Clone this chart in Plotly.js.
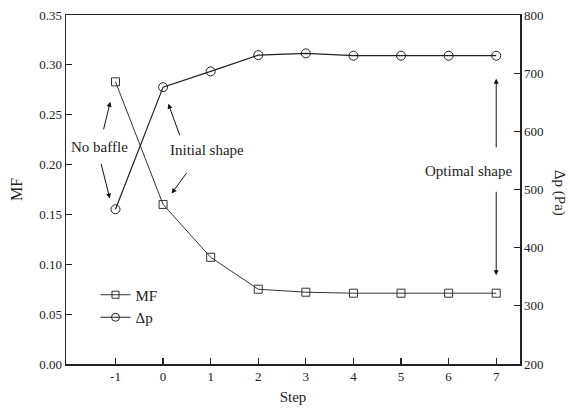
<!DOCTYPE html>
<html>
<head>
<meta charset="utf-8">
<script src="https://cdn.plot.ly/plotly-3.0.1.min.js"></script>
<style>html,body{margin:0;padding:0;background:#fff;}#chart{width:570px;height:410px;}</style>
</head>
<body>
<div id="chart"></div>
<script>
const steps = [-1, 0, 1, 2, 3, 4, 5, 6, 7];
const mfValues = [0.283, 0.160, 0.107, 0.075, 0.072, 0.071, 0.071, 0.071, 0.071];
const dpValues = [466, 676, 703, 731, 734, 730, 730, 730, 730];
const xTickVals = [-1, 0, 1, 2, 3, 4, 5, 6, 7];
const xTickText = ['-1', '0', '1', '2', '3', '4', '5', '6', '7'];

const FONT = 'Liberation Serif, Times New Roman, serif';
const INK = '#222';

const traces = [
  {
    x: steps, y: mfValues, name: 'MF', type: 'scatter', mode: 'lines+markers', showlegend: false,
    line: {color: '#333', width: 1},
    marker: {symbol: 'square-open', size: 8, color: '#333', line: {width: 1}}
  },
  {
    x: steps, y: dpValues, name: 'Δp', type: 'scatter', mode: 'lines+markers', yaxis: 'y2', showlegend: false,
    line: {color: '#222', width: 1.2},
    marker: {symbol: 'circle-open', size: 9, color: '#222', line: {width: 1}}
  },
  {
    x: [null], y: [null], name: 'MF', type: 'scatter', mode: 'lines+markers',
    line: {color: '#333', width: 1},
    marker: {symbol: 'square-open', size: 7, color: '#333', line: {width: 1}}
  },
  {
    x: [null], y: [null], name: 'Δp', type: 'scatter', mode: 'lines+markers',
    line: {color: '#222', width: 1.2},
    marker: {symbol: 'circle-open', size: 8, color: '#222', line: {width: 1}}
  }
];

const arrowBase = {showarrow: true, arrowhead: 2, arrowsize: 1, arrowwidth: 1, arrowcolor: '#111',
  axref: 'pixel', ayref: 'pixel', text: '', xref: 'x', yref: 'y'};

const layout = {
  width: 570, height: 410,
  margin: {l: 66, r: 50, t: 15, b: 46},
  paper_bgcolor: '#fff', plot_bgcolor: '#fff',
  font: {family: FONT, color: INK, size: 13},
  showlegend: true,
  legend: {x: 0.065, y: 0.245, xanchor: 'left', yanchor: 'top', bgcolor: 'rgba(0,0,0,0)',
    font: {family: FONT, size: 15, color: INK}, tracegroupgap: 0, itemwidth: 30},
  xaxis: {
    range: [-2.04, 7.5], tickvals: xTickVals, ticktext: xTickText,
    ticks: 'inside', ticklen: 6, tickwidth: 1.2, tickcolor: INK,
    showline: true, linecolor: INK, linewidth: 1.5, mirror: true,
    showgrid: false, zeroline: false,
    tickfont: {family: FONT, size: 13, color: INK},
    title: {text: 'Step', font: {family: FONT, size: 15, color: INK}, standoff: 8}
  },
  yaxis: {
    range: [0, 0.35], dtick: 0.05, tickformat: '.2f',
    ticks: 'inside', ticklen: 6, tickwidth: 1.2, tickcolor: INK,
    showline: true, linecolor: INK, linewidth: 1.5,
    showgrid: false, zeroline: false,
    tickfont: {family: FONT, size: 13, color: INK},
    title: {text: 'MF', font: {family: FONT, size: 16, color: INK}, standoff: 12}
  },
  yaxis2: {
    overlaying: 'y', side: 'right', range: [200, 800], dtick: 100,
    ticks: 'inside', ticklen: 6, tickwidth: 1.2, tickcolor: INK,
    showline: true, linecolor: INK, linewidth: 1.5,
    showgrid: false, zeroline: false,
    tickfont: {family: FONT, size: 13, color: INK}
  },
  annotations: [
    {text: 'Δp (Pa)', xref: 'paper', yref: 'paper', x: 1.086, y: 0.49, xanchor: 'center', yanchor: 'middle',
      textangle: 90, showarrow: false, font: {family: FONT, size: 15, color: INK}},
    {text: 'No baffle', xref: 'x', yref: 'y', x: -1.33, y: 0.218, showarrow: false,
      font: {family: FONT, size: 15, color: INK}},
    {text: 'Initial shape', xref: 'x', yref: 'y', x: 0.92, y: 0.215, showarrow: false,
      font: {family: FONT, size: 15, color: INK}},
    {text: 'Optimal shape', xref: 'x', yref: 'y', x: 6.42, y: 0.194, showarrow: false,
      font: {family: FONT, size: 15, color: INK}},
    Object.assign({}, arrowBase, {x: -1.11, y: 0.263, ax: -7, ay: 29}),
    Object.assign({}, arrowBase, {x: -1.12, y: 0.166, ax: -9, ay: -36}),
    Object.assign({}, arrowBase, {x: 0.11, y: 0.261, ax: 12, ay: 33}),
    Object.assign({}, arrowBase, {x: 0.18, y: 0.171, ax: 16, ay: -22}),
    Object.assign({}, arrowBase, {x: 7.0, y: 0.286, ax: 0, ay: 70}),
    Object.assign({}, arrowBase, {x: 7.0, y: 0.089, ax: 0, ay: -85})
  ]
};

Plotly.newPlot('chart', traces, layout, {displayModeBar: false, staticPlot: true});
</script>
</body>
</html>
